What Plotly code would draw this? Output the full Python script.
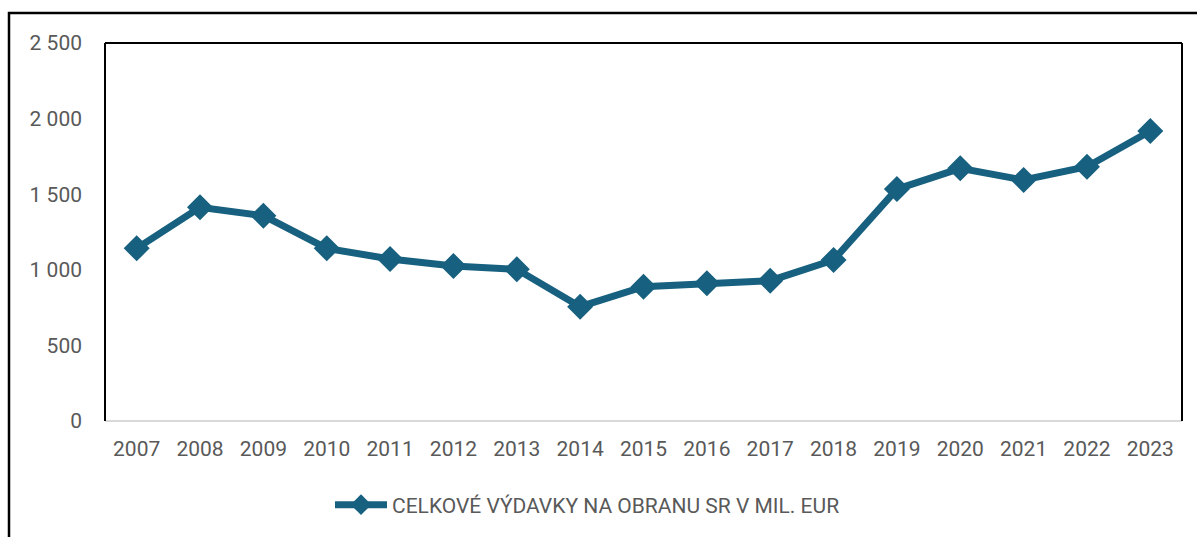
import plotly.graph_objects as go

years = ["2007", "2008", "2009", "2010", "2011", "2012", "2013", "2014", "2015",
         "2016", "2017", "2018", "2019", "2020", "2021", "2022", "2023"]
spending = [1142, 1413, 1358, 1142, 1071, 1025, 1003, 756, 888,
            911, 928, 1065, 1534, 1671, 1594, 1682, 1918]
series_name = "CELKOVÉ VÝDAVKY NA OBRANU SR V MIL. EUR"
y_ticks = [0, 500, 1000, 1500, 2000, 2500]
y_ticklabels = ["0", "500", "1 000", "1 500", "2 000", "2 500"]

color = "#17607F"
font_family = "Roboto, Liberation Sans, Arial, sans-serif"
text_color = "#595959"

fig = go.Figure()
fig.add_trace(go.Scatter(
    x=years, y=spending, name=series_name, mode="lines+markers",
    line=dict(color=color, width=7),
    marker=dict(symbol="diamond", size=20, color=color),
    showlegend=True,
))

W, H = 1197, 537
L, R, T, B = 105, 15, 43, 116
pw = W - L - R
ph = H - T - B

fig.update_layout(
    width=W, height=H,
    margin=dict(l=L, r=R, t=T, b=B),
    paper_bgcolor="white", plot_bgcolor="white",
    font=dict(family=font_family, size=21, color=text_color),
    showlegend=True,
    legend=dict(orientation="h", x=(330 - L) / pw, xanchor="left",
                y=(H - 505 - B) / ph, yanchor="middle",
                font=dict(size=21, color=text_color),
                itemwidth=52, bgcolor="rgba(0,0,0,0)"),
    xaxis=dict(type="category", range=[-0.5, 16.5], showgrid=False,
               showline=False, zeroline=False, ticks="", ticklabelstandoff=13,
               tickfont=dict(size=21, color=text_color)),
    yaxis=dict(range=[0, 2500], tickvals=y_ticks, ticktext=y_ticklabels,
               showgrid=False, zeroline=False, showline=False, ticks="",
               ticklabelstandoff=22, tickfont=dict(size=21, color=text_color)),
    shapes=[
        # outer frame
        dict(type="rect", xref="paper", yref="paper",
             x0=(9 - L) / pw, x1=(W + 20 - L) / pw,
             y0=(H - (H + 20) - B) / ph, y1=(H - 13 - B) / ph,
             line=dict(color="black", width=2.5), layer="below"),
        # plot box left, top, right
        dict(type="line", xref="paper", yref="paper", x0=0, x1=0, y0=0, y1=1,
             line=dict(color="black", width=2)),
        dict(type="line", xref="paper", yref="paper", x0=0, x1=1, y0=1, y1=1,
             line=dict(color="black", width=2)),
        dict(type="line", xref="paper", yref="paper", x0=1, x1=1, y0=0, y1=1,
             line=dict(color="black", width=2)),
        # bottom axis line
        dict(type="line", xref="paper", yref="paper", x0=0, x1=1, y0=0, y1=0,
             line=dict(color="#D9D9D9", width=2), layer="below"),
    ],
)

fig.write_html("out.html", config={"displayModeBar": False},
               post_script="document.body.style.margin='0';document.body.style.overflow='hidden';")
